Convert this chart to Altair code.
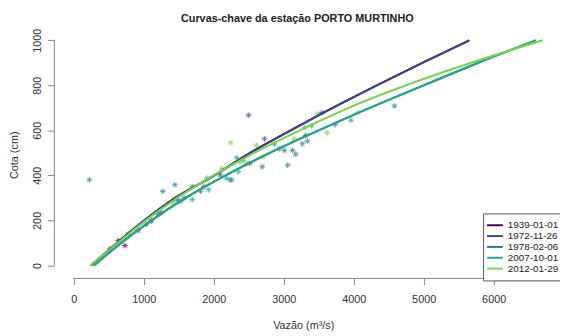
import altair as alt
import pandas as pd

# ---- rating curves (Q in m3/s at stage H in cm) ----
curve_H = [0, 100, 200, 300, 400, 500, 600, 700, 800, 900, 1000]
q_1939 = [250, 620, 1010, 1450, 2010, 2520, 3100, 3700, 4330, 4980, 5652]
q_1972 = [250, 620, 1010, 1450, 2010, 2520, 3100, 3700, 4330, 4980, 5652]
q_1978 = [290, 680, 1110, 1600, 2170, 2800, 3500, 4230, 5000, 5780, 6600]
q_2007 = [290, 680, 1110, 1600, 2170, 2800, 3500, 4230, 5000, 5780, 6600]
q_2012 = [240, 630, 1030, 1480, 2000, 2580, 3230, 3930, 4750, 5680, 6700]

periods = ["1939-01-01", "1972-11-26", "1978-02-06", "2007-10-01", "2012-01-29"]
palette = ["#440154", "#414487", "#2A788E", "#22A884", "#7AD151"]

# ---- measured points ----
pt_Q = [732, 521, 638, 1248, 1107,
        2500, 3549, 779, 1037, 1483, 1859, 2093, 2515, 2727, 3314, 920,
        224, 4582, 1272, 1445, 2694, 3056, 3737, 3008, 3127, 3173, 2938, 2868,
        1694, 1811, 1201, 1577, 2234, 3267, 3338,
        3962, 1437, 1530, 1694, 2352, 2187, 2258, 2422, 2328, 3304, 3399, 1929, 1906,
        2244, 4060, 3620, 3479, 2375, 2469, 1413, 3149, 2117, 2704, 2610]
pt_H = [88, 73, 110, 234, 197,
        667, 679, 139, 183, 292, 350, 402, 453, 562, 577, 154,
        380, 708, 329, 358, 438, 445, 625, 511, 511, 494, 518, 540,
        350, 329, 227, 300, 380, 540, 552,
        645, 292, 285, 292, 416, 387, 380, 467, 479, 613, 620, 336, 387,
        545, 679, 589, 674, 456, 453, 278, 562, 431, 482, 533]
pt_period = ["1939-01-01"] * 5 + ["1972-11-26"] * 11 + ["1978-02-06"] * 19 + \
            ["2007-10-01"] * 13 + ["2012-01-29"] * 11

curves = []
for name, qs in zip(periods, [q_1939, q_1972, q_1978, q_2007, q_2012]):
    for q, h in zip(qs, curve_H):
        curves.append({"Q": q, "H": h, "periodo": name})
curves_df = pd.DataFrame(curves)
points_df = pd.DataFrame({"Q": pt_Q, "H": pt_H, "periodo": pt_period})

W, H = 505, 251
FONT = "Liberation Sans"

xscale = alt.Scale(domain=[-277, 6835], nice=False, zero=False)
yscale = alt.Scale(domain=[-58, 1041], nice=False, zero=False)
cscale = alt.Scale(domain=periods, range=palette)

xaxis = alt.Axis(values=[0, 1000, 2000, 3000, 4000, 5000, 6000], grid=False, domain=False,
                 tickColor="#888888", tickSize=6, labelPadding=9, labelFontSize=11,
                 labelColor="#333333", labelFont=FONT, title="Vazão (m³/s)",
                 titleFont=FONT, titleFontSize=11, titleFontWeight="normal",
                 titleColor="#333333", titlePadding=16, format="d")
yaxis = alt.Axis(values=[0, 200, 400, 600, 800, 1000], grid=False, domain=False,
                 tickColor="#888888", tickSize=7, labelPadding=5, labelFontSize=11,
                 labelColor="#333333", labelFont=FONT, labelAngle=270,
                 labelAlign="center", labelBaseline="bottom",
                 title="Cota (cm)", titleFont=FONT, titleFontSize=11,
                 titleFontWeight="normal", titleColor="#333333", titlePadding=12, format="d")

asterisk = "M-1,0L1,0M0,-1L0,1M-0.7,-0.7L0.7,0.7M-0.7,0.7L0.7,-0.7"

lines = alt.Chart(curves_df).mark_line(strokeWidth=2, interpolate="monotone").encode(
    x=alt.X("Q:Q", scale=xscale, axis=xaxis),
    y=alt.Y("H:Q", scale=yscale, axis=yaxis),
    color=alt.Color("periodo:N", scale=cscale, title=None),
    order=alt.Order("H:Q"),
)

pts = alt.Chart(points_df).mark_point(shape=asterisk, filled=False, size=34,
                                      strokeWidth=1, opacity=0.75).encode(
    x=alt.X("Q:Q", scale=xscale),
    y=alt.Y("H:Q", scale=yscale),
    color=alt.Color("periodo:N", scale=cscale, title=None),
)

xline = alt.Chart(pd.DataFrame({"a": [0]})).mark_rule(color="#888888").encode(
    x=alt.datum(0, scale=xscale), x2=alt.datum(6000), y=alt.value(H))
yline = alt.Chart(pd.DataFrame({"a": [0]})).mark_rule(color="#888888").encode(
    y=alt.datum(0, scale=yscale), y2=alt.datum(1000), x=alt.value(0))

chart = alt.layer(pts, lines, xline, yline).properties(
    width=W, height=H,
    autosize=alt.AutoSizeParams(type="none"),
    padding={"left": 47, "top": 21, "right": 8, "bottom": 56},
    title=alt.TitleParams("Curvas-chave da estação PORTO MURTINHO", font=FONT,
                          fontSize=11, fontWeight="bold", color="#222222",
                          anchor="middle", offset=4, dx=-6),
).configure_view(stroke=None).configure_legend(
    orient="none", legendX=435, legendY=185, padding=7,
    strokeColor="#555555", fillColor="white", symbolType="M-2,0L2,0",
    symbolSize=64, symbolStrokeWidth=2, labelFont=FONT, labelFontSize=10,
    labelColor="#222222", labelOffset=8, rowPadding=1, cornerRadius=0,
    symbolOpacity=1,
)

chart.save("out.html", embed_options={"renderer": "svg", "actions": False})
